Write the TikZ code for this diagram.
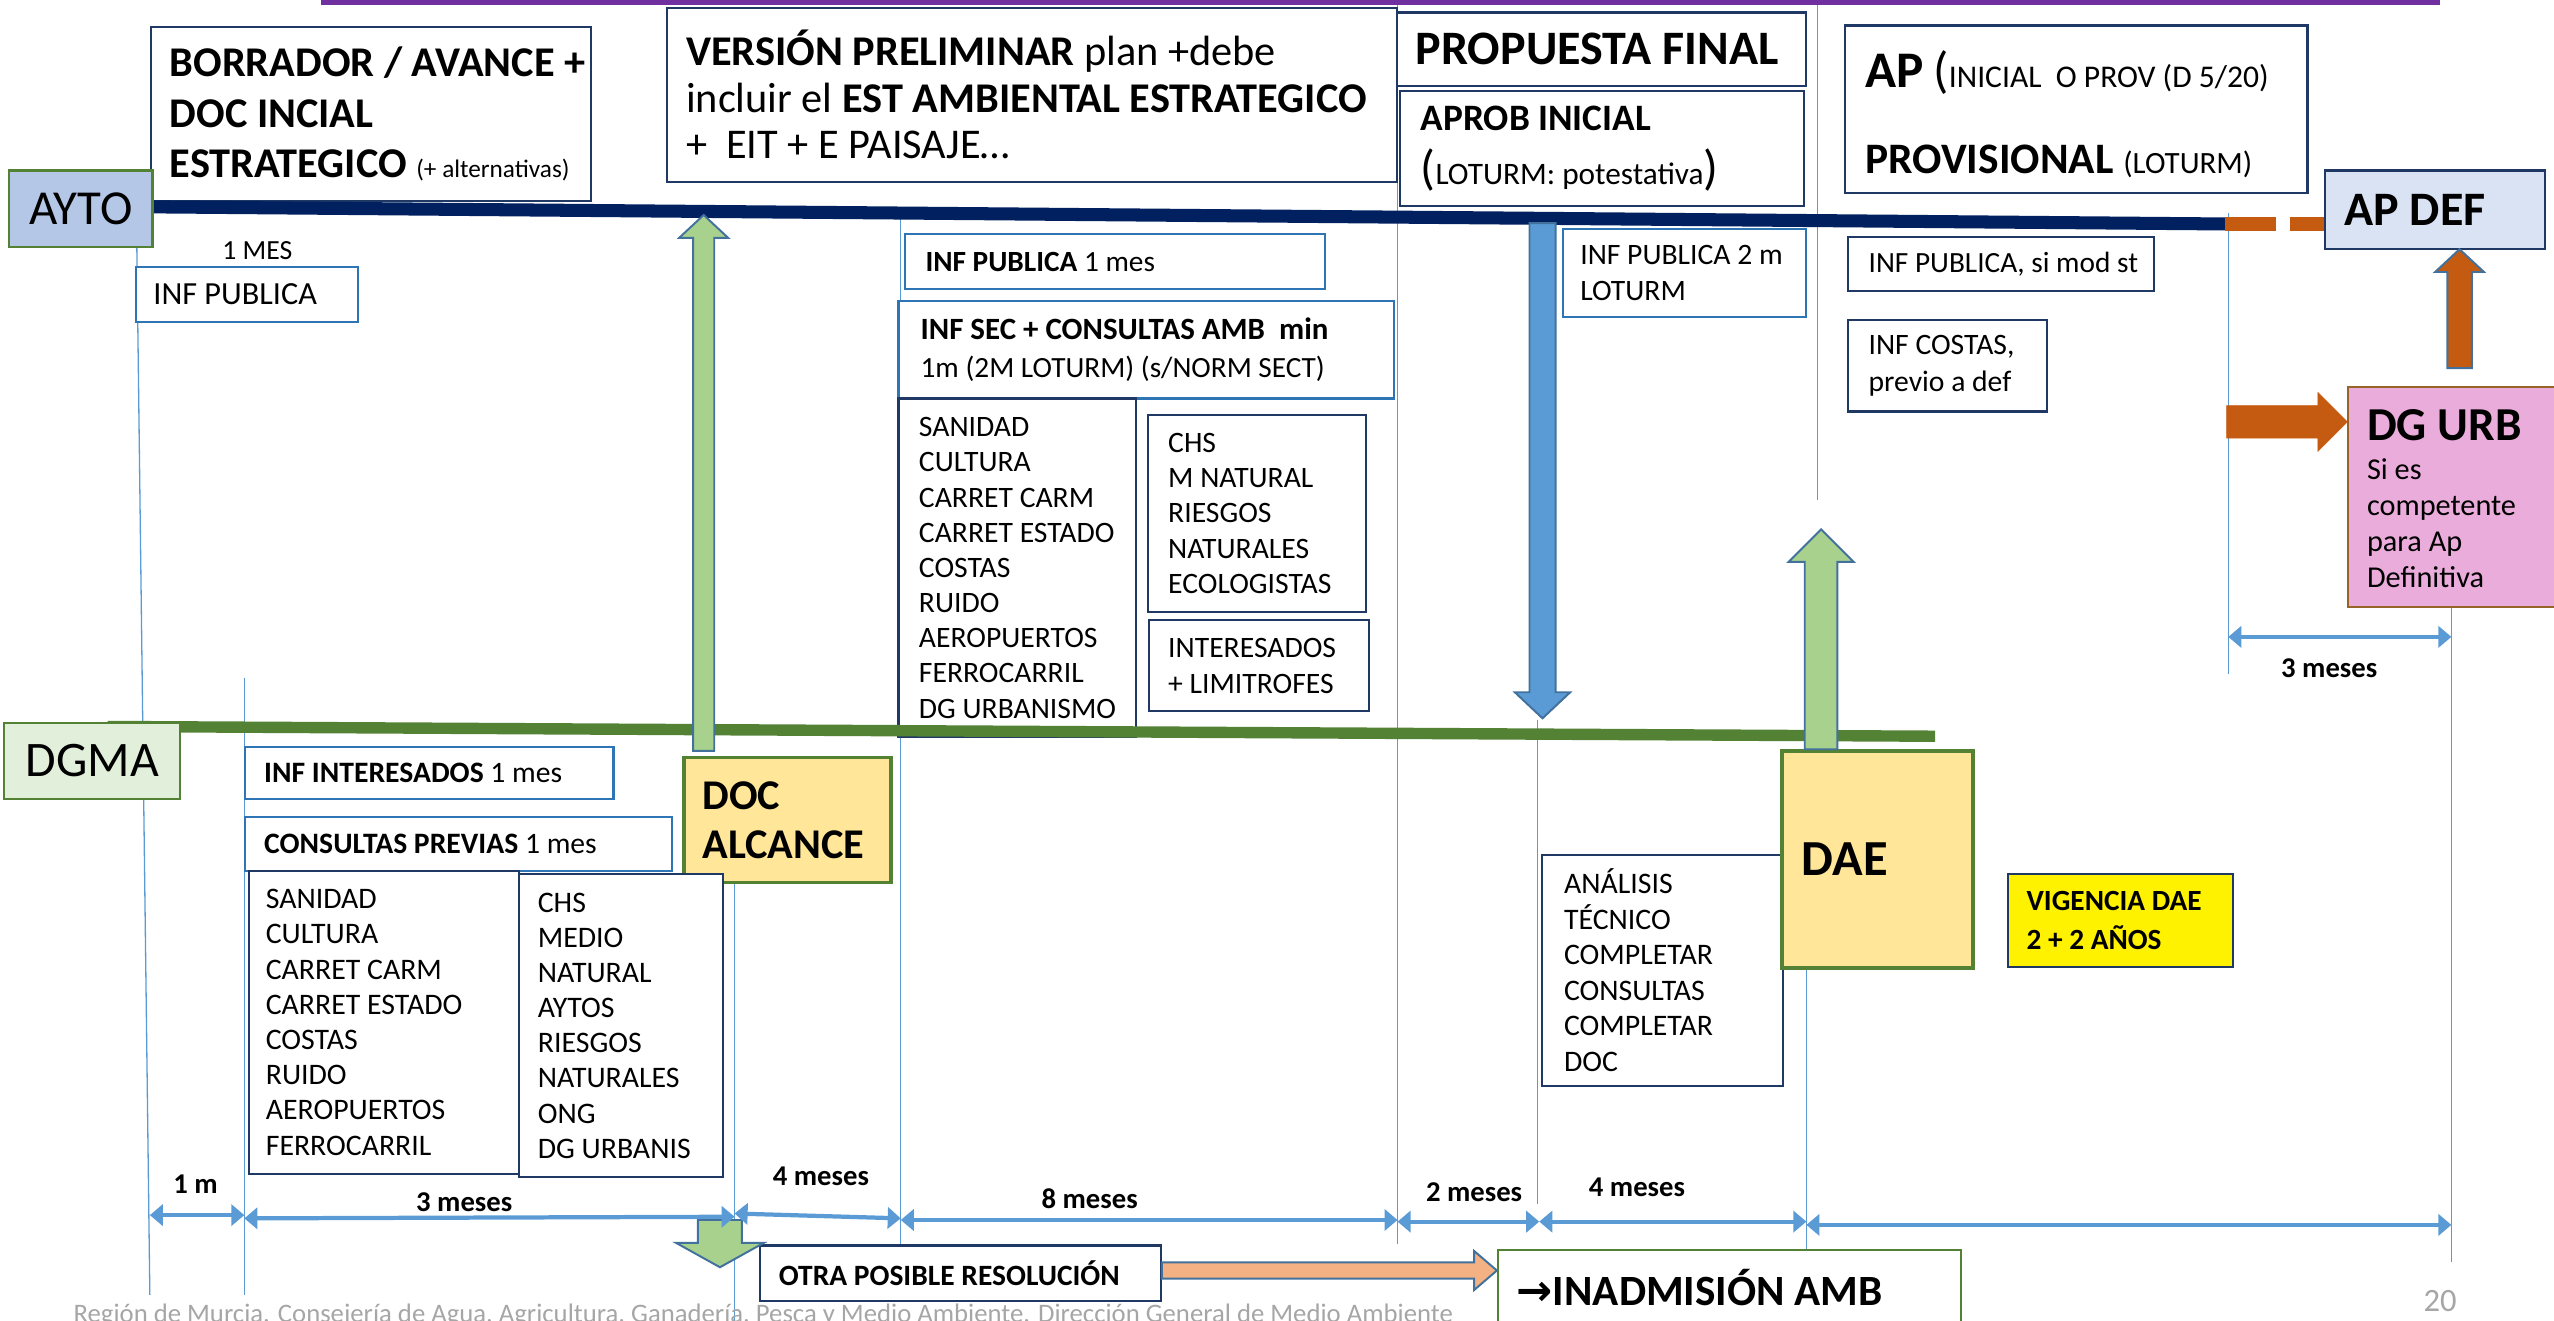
\documentclass[tikz,border=0pt]{standalone}
\usepackage{fontspec}
\setmainfont{Carlito}
\newfontfamily\dejavu{DejaVu Sans}
\usetikzlibrary{arrows.meta, calc}
\definecolor{lane}{RGB}{0, 32, 96}
\definecolor{boxnavy}{RGB}{32, 56, 100}
\definecolor{boxblue}{RGB}{46, 117, 182}
\definecolor{guideblue}{RGB}{91, 155, 213}
\definecolor{arrowedge}{RGB}{65, 113, 156}
\definecolor{leaf}{RGB}{84, 130, 53}
\definecolor{lightleaf}{RGB}{169, 209, 142}
\definecolor{paleleaf}{RGB}{226, 239, 218}
\definecolor{sky}{RGB}{180, 199, 231}
\definecolor{palesky}{RGB}{218, 227, 243}
\definecolor{sand}{RGB}{255, 230, 153}
\definecolor{rust}{RGB}{197, 90, 17}
\definecolor{peach}{RGB}{244, 177, 131}
\definecolor{orchid}{RGB}{234, 172, 219}
\definecolor{bark}{RGB}{150, 100, 40}
\definecolor{topline}{RGB}{112, 48, 160}
\definecolor{footgrey}{RGB}{166, 166, 166}

\newcommand{\fs}[2]{\fontsize{#1}{#2}\selectfont}
\newcommand{\blockv}[6]{%
  \draw[#1] let \p1=(#2), \p2=(#3), \n1={sign(\y2-\y1)} in
    ({\x1-#4},\y1) -- ({\x1-#4},{\y2-(\n1)*#6}) -- ({\x1-#5},{\y2-(\n1)*#6}) -- (\x1,\y2)
    -- ({\x1+#5},{\y2-(\n1)*#6}) -- ({\x1+#4},{\y2-(\n1)*#6}) -- ({\x1+#4},\y1) -- cycle;}
\newcommand{\blockh}[6]{%
  \draw[#1] let \p1=(#2), \p2=(#3), \n1={sign(\x2-\x1)} in
    (\x1,{\y1-#4}) -- ({\x2-(\n1)*#6},{\y1-#4}) -- ({\x2-(\n1)*#6},{\y1-#5}) -- (\x2,\y1)
    -- ({\x2-(\n1)*#6},{\y1+#5}) -- ({\x2-(\n1)*#6},{\y1+#4}) -- (\x1,{\y1+#4}) -- cycle;}

\begin{document}
\begin{tikzpicture}[x=1pt, y=-1pt,
  box/.style={draw=boxnavy, line width=1.3, fill=white, anchor=north west, inner sep=0},
  bluebox/.style={box, draw=boxblue},
  txt/.style={anchor=west, inner sep=0, align=left},
  guide/.style={guideblue, line width=0.8},
  span/.style={guideblue, line width=2.6, {Triangle[length=8pt, width=13pt]}-{Triangle[length=8pt, width=13pt]}},
  spanlabel/.style={font=\bfseries\fs{17.6}{20}},
  block/.style={draw=arrowedge, line width=1.2}]

  \useasboundingbox (0,0) rectangle (1568,811);

  \draw[guide] (84,151) -- (92,795);
  \draw[guide] (150,416) -- (150,795);
  \draw[guide] (451,541) -- (451,811);
  \draw[guide] (553,131) -- (553,764);
  \draw[guide] (858,0) -- (858,764);
  \draw[guide] (944,442) -- (944,739);
  \draw[guide] (1116,0) -- (1116,307);
  \draw[guide] (1109,593) -- (1109,775);
  \draw[guide] (1368,131) -- (1368,414);
  \draw[guide] (1505,372) -- (1505,775);

  \draw[topline, line width=3] (197,1.5) -- (1498,1.5);

  % AYTO side
  \node[box, minimum width=270, minimum height=107] (borrador) at (92,16) {};
  \node[txt, font={\fs{26}{31}\bfseries}] (borradortext) at ([xshift=12]borrador.west)
    {BORRADOR / AVANCE +\\DOC INCIAL\\ESTRATEGICO {\mdseries\fs{15.5}{17}(+ alternativas)}};
  \node[box, minimum width=448, minimum height=107] (version) at (409,4) {};
  \node[txt, font=\fs{26}{28.5}] (versiontext) at ([xshift=12]version.west)
    {\textbf{VERSIÓN PRELIMINAR} plan +debe\\incluir el \textbf{EST AMBIENTAL ESTRATEGICO}\\+\ \ EIT + E PAISAJE…};
  \node[box, minimum width=251, minimum height=45] (propuesta) at (857,7) {};
  \node[txt, font={\fs{29.5}{32}\bfseries}] (propuestatext) at ([xshift=12]propuesta.west) {PROPUESTA FINAL};
  \node[box, minimum width=248, minimum height=71] (aprob) at (859,55) {};
  \node[txt, font=\fs{22.9}{33}] (aprobtext) at ([xshift=13]aprob.west)
    {\textbf{APROB INICIAL}\\{\fs{30}{33}(}{\fs{19.2}{33}LOTURM: potestativa}{\fs{30}{33})}};
  \node[box, minimum width=284, minimum height=103] (apbox) at (1132,15) {};
  \node[txt, font=\fs{26.7}{53}] (aptext) at ([xshift=13, yshift=-3]apbox.west)
    {{\bfseries\fs{31.5}{53}AP} {\fs{31}{53}(}{\fs{19.4}{53}INICIAL\ \ O PROV (D 5/20)}\\\textbf{PROVISIONAL} {\fs{19}{53}(LOTURM)}};

  \node[bluebox, minimum width=136, minimum height=34] (infpubA) at (83,163) {};
  \node[txt, font=\fs{19.8}{22}] (infpubAtext) at ([xshift=11]infpubA.west) {INF PUBLICA};
  \node[font=\fs{17}{19}] (mes) at (158,154) {1 MES};
  \node[bluebox, minimum width=258, minimum height=34] (infpubB) at (555,143) {};
  \node[txt, font=\fs{18}{20}] (infpubBtext) at ([xshift=13]infpubB.west) {\textbf{INF PUBLICA} 1 mes};
  \node[bluebox, minimum width=304, minimum height=60] (infsec) at (551,184) {};
  \node[txt, font=\fs{18}{23}] (infsectext) at ([xshift=14]infsec.west)
    {{\bfseries\fs{19}{23}INF SEC + CONSULTAS AMB\ \ min}\\1m (2M LOTURM) (s/NORM SECT)};
  \node[box, minimum width=146, minimum height=208] (listA) at (551,244) {};
  \node[txt, font=\fs{18.2}{21.6}] (listAtext) at ([xshift=13]listA.west)
    {SANIDAD\\CULTURA\\CARRET CARM\\CARRET ESTADO\\COSTAS\\RUIDO\\AEROPUERTOS\\FERROCARRIL\\DG URBANISMO};
  \node[box, minimum width=134, minimum height=121] (listB) at (704,254) {};
  \node[txt, font=\fs{18.2}{21.6}] (listBtext) at ([xshift=13]listB.west)
    {CHS\\M NATURAL\\RIESGOS\\NATURALES\\ECOLOGISTAS};
  \node[box, minimum width=135, minimum height=56] (listC) at (705,380) {};
  \node[txt, font=\fs{18.2}{22}] (listCtext) at ([xshift=12]listC.west) {INTERESADOS\\+ LIMITROFES};

  \node[bluebox, minimum width=149, minimum height=54] (infpubC) at (959,140) {};
  \node[txt, font=\fs{18.2}{22}] (infpubCtext) at ([xshift=11]infpubC.west) {INF PUBLICA 2 m\\LOTURM};
  \node[box, minimum width=188, minimum height=33] (infpubD) at (1134,145) {};
  \node[txt, font=\fs{18}{20}] (infpubDtext) at ([xshift=13]infpubD.west) {INF PUBLICA, si mod st};
  \node[box, minimum width=122, minimum height=56] (infcostas) at (1134,196) {};
  \node[txt, font=\fs{18.2}{23}] (infcostastext) at ([xshift=13]infcostas.west) {INF COSTAS,\\previo a def};
  \node[box, draw=bark, fill=orchid, minimum width=140, minimum height=135] (dgurb) at (1441,237) {};
  \node[txt, font=\fs{18.6}{22}] (dgurbtext) at ([xshift=12, yshift=-1]dgurb.west)
    {{\bfseries\fs{29}{22}DG URB}\\[2pt]Si es\\competente\\para Ap\\Definitiva};

  % DGMA side
  \node[box, draw=leaf, line width=2, fill=sand, minimum width=127, minimum height=77] (docalc) at (419,464) {};
  \node[txt, font={\fs{26}{30}\bfseries}] (docalctext) at ([xshift=12]docalc.west) {DOC\\ALCANCE};
  \node[bluebox, minimum width=226, minimum height=32] (infint) at (150,458) {};
  \node[txt, font=\fs{18.2}{20}] (infinttext) at ([xshift=12]infint.west) {\textbf{INF INTERESADOS} 1 mes};
  \node[bluebox, minimum width=262, minimum height=33] (consprev) at (150,501) {};
  \node[txt, font=\fs{18.2}{20}] (consprevtext) at ([xshift=12]consprev.west) {\textbf{CONSULTAS PREVIAS} 1 mes};
  \node[box, minimum width=166, minimum height=186] (listD) at (152,534) {};
  \node[txt, font=\fs{18.3}{21.6}] (listDtext) at ([xshift=11]listD.west)
    {SANIDAD\\CULTURA\\CARRET CARM\\CARRET ESTADO\\COSTAS\\RUIDO\\AEROPUERTOS\\FERROCARRIL};
  \node[box, minimum width=125, minimum height=186] (listE) at (318,536) {};
  \node[txt, font=\fs{18.3}{21.6}] (listEtext) at ([xshift=12]listE.west)
    {CHS\\MEDIO\\NATURAL\\AYTOS\\RIESGOS\\NATURALES\\ONG\\DG URBANIS};

  \node[box, minimum width=148, minimum height=142] (analisis) at (946,524) {};
  \node[txt, font=\fs{18.3}{21.8}] (analisistext) at ([xshift=14]analisis.west)
    {ANÁLISIS\\TÉCNICO\\COMPLETAR\\CONSULTAS\\COMPLETAR\\DOC};
  \node[box, draw=leaf, line width=2.5, fill=sand, minimum width=117, minimum height=133] (dae) at (1093,460) {};
  \node[txt, font={\fs{31}{36}\bfseries}] (daetext) at ([xshift=13]dae.west) {DAE};
  \node[box, fill=yellow, minimum width=138, minimum height=57] (vigencia) at (1232,536) {};
  \node[txt, font={\fs{18}{24}\bfseries}] (vigenciatext) at ([xshift=12]vigencia.west) {VIGENCIA DAE\\2 + 2 AÑOS};

  \node[box, minimum width=246, minimum height=34] (otra) at (466,764) {};
  \node[txt, font={\fs{18.1}{20}\bfseries}] (otratext) at ([xshift=12]otra.west) {OTRA POSIBLE RESOLUCIÓN};
  \node[box, draw=leaf, minimum width=284, minimum height=46] (inadm) at (919,767) {};
  \node[txt, font={\fs{26.5}{28}\bfseries}] (inadmtext) at ([xshift=12]inadm.west) {{\dejavu\bfseries →}INADMISIÓN AMB};

  % lanes
  \draw[lane, line width=8] (93,127) -- (1366,137.5);
  \draw[rust, line width=9] (1366,137.5) -- (1397,137.5) (1406,137.5) -- (1427,137.5);
  \draw[leaf, line width=7] (66,446) -- (1188,452);

  \node[box, draw=leaf, fill=sky, minimum width=88, minimum height=47, font=\fs{30}{34}] (ayto) at (5,104) {AYTO};
  \node[box, draw=leaf, fill=paleleaf, minimum width=108, minimum height=47, font=\fs{30.5}{34}] (dgma) at (2,443) {DGMA};
  \node[box, fill=palesky, minimum width=135, minimum height=48] (apdef) at (1427,104) {};
  \node[txt, font={\fs{29.5}{30}\bfseries}] (apdeftext) at ([xshift=12]apdef.west) {AP DEF};

  % block arrows
  \coordinate (alcfoot) at (432,461);
  \coordinate (alctip) at (432,132);
  \blockv{block, fill=lightleaf}{alcfoot}{alctip}{6.5pt}{15pt}{14pt}
  \coordinate (pubroot) at (947,137);
  \coordinate (pubtip) at (947,441);
  \blockv{block, fill=guideblue}{pubroot}{pubtip}{8pt}{17pt}{16pt}
  \coordinate (daefoot) at (1118,460);
  \coordinate (daetip) at (1118,325);
  \blockv{block, fill=lightleaf}{daefoot}{daetip}{10pt}{20pt}{20pt}
  \coordinate (urbfoot) at (1367,259);
  \coordinate (urbtip) at (1441,259);
  \blockh{rust, fill=rust}{urbfoot}{urbtip}{10pt}{18pt}{18pt}
  \coordinate (deffoot) at (1510,226);
  \coordinate (deftip) at (1510,153);
  \blockv{block, fill=rust}{deffoot}{deftip}{7.5pt}{15pt}{14pt}
  \coordinate (alcdown) at (442,749);
  \coordinate (alcdowntip) at (442,778);
  \blockv{block, fill=lightleaf}{alcdown}{alcdowntip}{13.5pt}{27pt}{15pt}
  \coordinate (otraout) at (otra.east |- 0,780);
  \coordinate (otratip) at (inadm.west |- 0,780);
  \blockh{block, fill=peach}{otraout}{otratip}{5pt}{12pt}{14pt}

  % time spans
  \draw[span] (92,746) -- (150,746);
  \draw[span] (150,748) -- (451,747);
  \draw[span] (451,745) -- (553,748);
  \draw[span] (553,749) -- (858,749);
  \draw[span] (858,750) -- (945,750);
  \draw[span] (945,750) -- (1109,750);
  \draw[span] (1109,752) -- (1505,752);
  \draw[span] (1368,391) -- (1505,391);
  \node[spanlabel] (lab1) at (120,727) {1 m};
  \node[spanlabel] (lab2) at (285,738) {3 meses};
  \node[spanlabel] (lab3) at (504,722) {4 meses};
  \node[spanlabel] (lab4) at (669,736) {8 meses};
  \node[spanlabel] (lab5) at (905,732) {2 meses};
  \node[spanlabel] (lab6) at (1005,729) {4 meses};
  \node[spanlabel] (lab7) at (1430,410) {3 meses};

  \node[anchor=base west, inner sep=0, text=footgrey, font=\fs{16.4}{19}] (footer) at (45,812)
    {Región de Murcia. Consejería de Agua, Agricultura, Ganadería, Pesca y Medio Ambiente. Dirección General de Medio Ambiente};
  \node[text=footgrey, font=\fs{20}{24}] (pagenum) at (1498,799) {20};
\end{tikzpicture}
\end{document}
